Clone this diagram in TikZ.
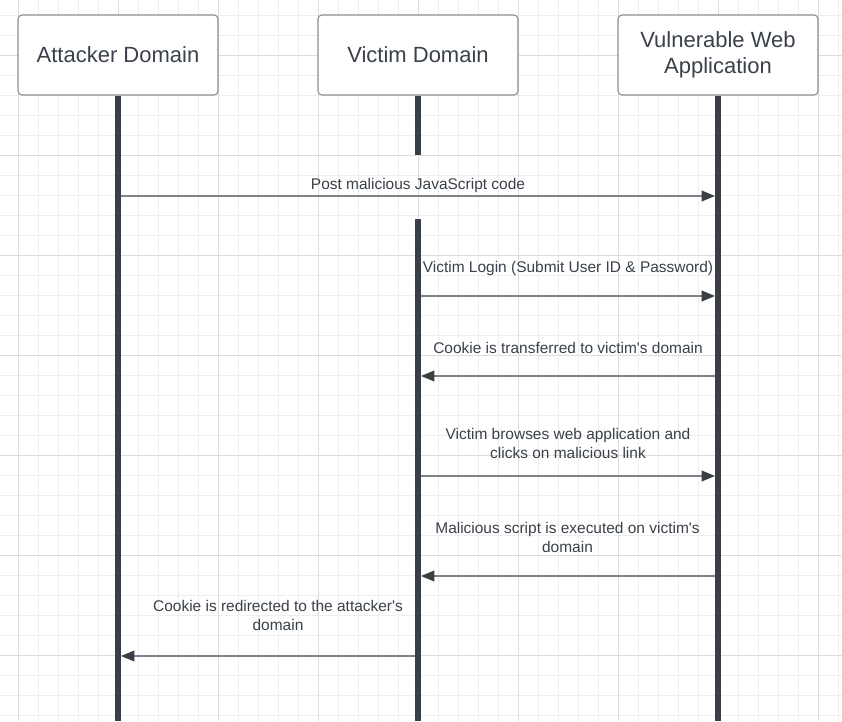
\documentclass[tikz,border=0pt]{standalone}
\usepackage{fontspec}
\setmainfont{Liberation Sans}
\usetikzlibrary{arrows.meta}
\definecolor{gridminor}{HTML}{EEEEEE}
\definecolor{gridmajor}{HTML}{DDDDDD}
\definecolor{inkcol}{HTML}{3A414A}
\definecolor{linecol}{HTML}{3A3F47}
\definecolor{msgcol}{HTML}{808387}
\definecolor{boxcol}{HTML}{8A8D91}
\tikzset{
  actor/.style={draw=boxcol, line width=0.8pt, fill=white, rounded corners=3pt, minimum width=150pt, minimum height=60pt, align=center, text=inkcol, font=\fontsize{16.5}{19.5}\selectfont},
  lifeline/.style={draw=linecol, line width=4.5pt},
  msg/.style={draw=msgcol, line width=1.2pt, -{Triangle[length=10pt,width=8pt,color=linecol]}},
  msglabel/.style={align=center, text=inkcol, font=\fontsize{11.6}{14.25}\selectfont, inner sep=0pt}
}
\begin{document}
\begin{tikzpicture}[x=0.75pt,y=-0.75pt]
\useasboundingbox (0,0) rectangle (842,721);
\fill[white] (0,0) rectangle (842,721);
% grid
\foreach \gx in {-2,18,...,838} \draw[gridminor, line width=0.75pt] (\gx,0) -- (\gx,721);
\foreach \gy in {15,35,...,715} \draw[gridminor, line width=0.75pt] (0,\gy) -- (842,\gy);
\foreach \gx in {18,118,...,818} \draw[gridmajor, line width=0.75pt] (\gx,0) -- (\gx,721);
\foreach \gy in {55,155,...,655} \draw[gridmajor, line width=0.75pt] (0,\gy) -- (842,\gy);

% actors
\node (att) [actor] at (118,55) {Attacker Domain};
\node (vic) [actor] at (418,55) {Victim Domain};
\node (app) [actor] at (718,55) {Vulnerable Web\\Application};

% lifelines
\coordinate (attend) at (118,721);
\coordinate (vicbreak) at (418,155);
\coordinate (vicresume) at (418,219);
\coordinate (vicend) at (418,721);
\coordinate (append) at (718,721);
\draw [lifeline] (att.south) -- (attend);
\draw [lifeline] (vic.south) -- (vicbreak);
\draw [lifeline] (vicresume) -- (vicend);
\draw [lifeline] (app.south) -- (append);

% message end points
\coordinate (a1) at (121,196);  \coordinate (w1) at (715,196);
\coordinate (v2) at (421,296);  \coordinate (w2) at (715,296);
\coordinate (w3) at (715,376);  \coordinate (v3) at (421,376);
\coordinate (v4) at (421,476);  \coordinate (w4) at (715,476);
\coordinate (w5) at (715,576);  \coordinate (v5) at (421,576);
\coordinate (v6) at (415,656);  \coordinate (a6) at (121,656);

% messages
\draw [msg] (a1) -- (w1);
\node (post) [msglabel] at (418,185) {Post malicious JavaScript code};

\draw [msg] (v2) -- (w2);
\node (login) [msglabel] at (568,268) {Victim Login (Submit User ID \& Password)};

\draw [msg] (w3) -- (v3);
\node (cookie) [msglabel] at (568,348) {Cookie is transferred to victim\textquotesingle s domain};

\draw [msg] (v4) -- (w4);
\node (browse) [msglabel] at (568,443.5) {Victim browses web application and\\clicks on malicious link};

\draw [msg] (w5) -- (v5);
\node (script) [msglabel] at (567.5,537.5) {Malicious script is executed on victim\textquotesingle s\\domain};

\draw [msg] (v6) -- (a6);
\node (redirect) [msglabel] at (278,615.5) {Cookie is redirected to the attacker\textquotesingle s\\domain};
\end{tikzpicture}
\end{document}
